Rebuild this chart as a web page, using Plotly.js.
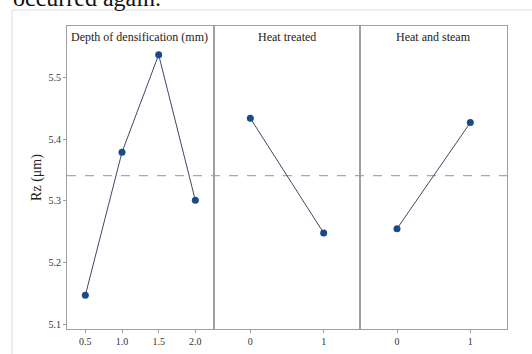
<!DOCTYPE html>
<html><head><meta charset="utf-8">
<script src="https://cdn.plot.ly/plotly-3.0.1.min.js"></script>
<style>body{margin:0;background:#fff}#c{width:532px;height:354px}</style>
</head><body><div id="c"></div>
<script>
const depthLevels = ['0.5','1.0','1.5','2.0'];
const depthRz = [5.147, 5.379, 5.537, 5.301];
const heatLevels = ['0','1'];
const heatRz = [5.434, 5.248];
const steamLevels = ['0','1'];
const steamRz = [5.255, 5.427];
const grandMean = 5.341;
const panelTitles = ['Depth of densification (mm)', 'Heat treated', 'Heat and steam'];
const yTicks = [5.1, 5.2, 5.3, 5.4, 5.5];

const serif = 'Liberation Serif, Times New Roman, serif';
const markerStyle = {color:'#1b4a8a', size:7};
const lineStyle = {color:'#3c4a66', width:1};
function tr(x, y, xa, ya){
  return {x:x, y:y, xaxis:xa, yaxis:ya, type:'scatter', mode:'lines+markers',
    marker:markerStyle, line:lineStyle, hoverinfo:'skip', showlegend:false};
}
const data = [
  tr(depthLevels, depthRz, 'x', 'y'),
  tr(heatLevels, heatRz, 'x2', 'y2'),
  tr(steamLevels, steamRz, 'x3', 'y3')
];
const axLine = '#a0a0a0';
function xa(dom, n, anchor){
  return {domain:dom, type:'category', range:[-0.5, n-0.5], anchor:anchor,
    showline:true, linecolor:axLine, linewidth:1, mirror:true,
    ticks:'outside', ticklen:3, tickcolor:axLine, showgrid:false, zeroline:false,
    tickfont:{family:serif, size:10, color:'#333'}, fixedrange:true};
}
function ya(first, anchor){
  const o = {range:[5.0924, 5.5836], anchor:anchor, showline:true, linecolor:axLine, linewidth:1, mirror:true,
    showgrid:false, zeroline:false, fixedrange:true};
  if(first){
    o.tickvals = yTicks; o.ticktext = yTicks.map(v=>v.toFixed(1));
    o.ticks='outside'; o.ticklen=3; o.tickcolor=axLine;
    o.tickfont={family:serif, size:10, color:'#333'};
    o.title={text:'Rz (μm)', font:{family:serif, size:14, color:'#222'}, standoff:3};
  } else {
    o.matches='y'; o.showticklabels=false; o.ticks='';
  }
  return o;
}
const layout = {
  width:532, height:354, margin:{l:67, r:25, t:26, b:25},
  paper_bgcolor:'#fff', plot_bgcolor:'#fff',
  xaxis:xa([0,1/3], depthLevels.length, 'y'),
  xaxis2:xa([1/3,2/3], heatLevels.length, 'y2'),
  xaxis3:xa([2/3,1], steamLevels.length, 'y3'),
  yaxis:ya(true, 'x'), yaxis2:ya(false, 'x2'), yaxis3:ya(false, 'x3'),
  shapes:[
    {type:'line', xref:'paper', yref:'y', x0:0, x1:1, y0:grandMean, y1:grandMean,
     line:{color:'#a8a8a8', width:1.2, dash:'dash'}, layer:'below'},
    {type:'line', xref:'paper', yref:'paper', x0:-0.125, x1:1.06, y0:1.0528, y1:1.0528,
     line:{color:'#dcdcdc', width:1}},
    {type:'line', xref:'paper', yref:'paper', x0:-0.125, x1:-0.125, y0:1.0528, y1:-0.1,
     line:{color:'#dcdcdc', width:1}}
  ],
  annotations:[
    {text:panelTitles[0], xref:'paper', yref:'paper', x:0.005, y:0.995, xanchor:'left', yanchor:'top',
     showarrow:false, font:{family:serif, size:12, color:'#222'}},
    {text:panelTitles[1], xref:'paper', yref:'paper', x:0.5, y:0.995, xanchor:'center', yanchor:'top',
     showarrow:false, font:{family:serif, size:12, color:'#222'}},
    {text:panelTitles[2], xref:'paper', yref:'paper', x:5/6, y:0.995, xanchor:'center', yanchor:'top',
     showarrow:false, font:{family:serif, size:12, color:'#222'}},
    {text:'occurred again.', xref:'paper', yref:'paper', x:-0.127, y:1.092, xanchor:'left', yanchor:'middle',
     showarrow:false, font:{family:serif, size:24, color:'#111'}}
  ]
};
Plotly.newPlot('c', data, layout, {displayModeBar:false, staticPlot:true});
</script></body></html>
